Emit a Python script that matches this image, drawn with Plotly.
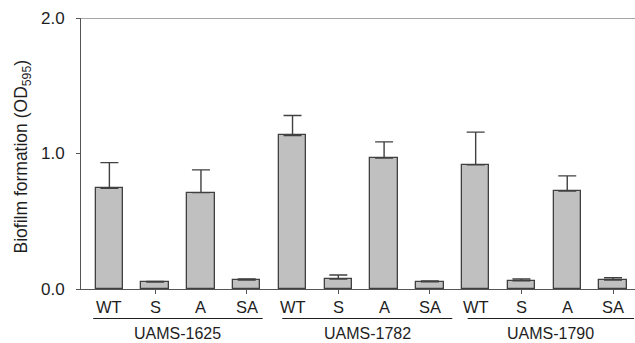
import plotly.graph_objects as go

strains = ["UAMS-1625", "UAMS-1782", "UAMS-1790"]
conditions = ["WT", "S", "A", "SA"]
means = [0.744, 0.052, 0.711, 0.066,
         1.133, 0.074, 0.966, 0.054,
         0.916, 0.061, 0.722, 0.066]
errors = [0.189, 0.003, 0.168, 0.008,
          0.147, 0.029, 0.120, 0.005,
          0.242, 0.013, 0.113, 0.017]
y_ticks = [0.0, 1.0, 2.0]
y_ticktext = ["0.0", "1.0", "2.0"]

FONT = "Liberation Sans, Arial, sans-serif"
TXT = "#1e1e1e"
AX = "#555555"

xs = list(range(len(means)))
labels = [conditions[i % 4] for i in xs]

fig = go.Figure()
fig.add_trace(go.Bar(
    x=xs, y=means, width=0.6,
    marker=dict(color="#c0c0c0", line=dict(color="#404040", width=1.3)),
    error_y=dict(type="data", array=errors, arrayminus=[0] * len(errors),
                 symmetric=False, color="#404040", thickness=1.4, width=9),
    showlegend=False,
))

annotations = []
for i, lab in zip(xs, labels):
    annotations.append(dict(x=i, y=-0.066, xref="x", yref="paper", text=lab,
                            showarrow=False, xanchor="center", yanchor="middle",
                            font=dict(family=FONT, size=16.5, color=TXT)))

shapes = []
group_spans = [(-0.354, 3.347), (3.775, 7.49), (7.826, 11.46)]
for (a, b), name in zip(group_spans, strains):
    shapes.append(dict(type="line", xref="x", yref="paper", x0=a, x1=b,
                       y0=-0.1089, y1=-0.1089, line=dict(color=TXT, width=1)))
    annotations.append(dict(x=(a + b) / 2, y=-0.166, xref="x", yref="paper",
                            text=name, showarrow=False, xanchor="center",
                            yanchor="middle",
                            font=dict(family=FONT, size=16, color=TXT)))

# top border line
shapes.append(dict(type="line", xref="paper", yref="y", x0=0, x1=1, y0=2, y1=2,
                   line=dict(color="#888888", width=1.5)))

annotations.append(dict(x=-0.106, y=0.49, xref="paper", yref="paper",
                        text="Biofilm formation (OD<sub>595</sub>)",
                        textangle=-90, showarrow=False, xanchor="center",
                        yanchor="middle",
                        font=dict(family=FONT, size=17.5, color=TXT)))

fig.update_layout(
    width=635, height=343,
    margin=dict(l=81, r=0, t=18, b=54),
    plot_bgcolor="white", paper_bgcolor="white",
    bargap=0,
    annotations=annotations, shapes=shapes,
    font=dict(family=FONT, size=16, color=TXT),
)
fig.update_xaxes(
    range=[-0.62, 11.48], showgrid=False, zeroline=False,
    showline=True, linecolor=AX, linewidth=1,
    tickmode="array", tickvals=[i for i in xs if i % 2 == 1],
    ticktext=["" for i in xs if i % 2 == 1],
    ticks="outside", ticklen=4, tickcolor=AX, tickwidth=1,
)
fig.update_yaxes(
    range=[0, 2], showgrid=False, zeroline=False,
    showline=True, linecolor=AX, linewidth=1,
    tickmode="array", tickvals=y_ticks, ticktext=y_ticktext,
    ticks="outside", ticklen=4, tickcolor=AX, tickwidth=1,
    ticklabelstandoff=8,
    tickfont=dict(family=FONT, size=17, color=TXT),
)

fig.write_html("out.html")
